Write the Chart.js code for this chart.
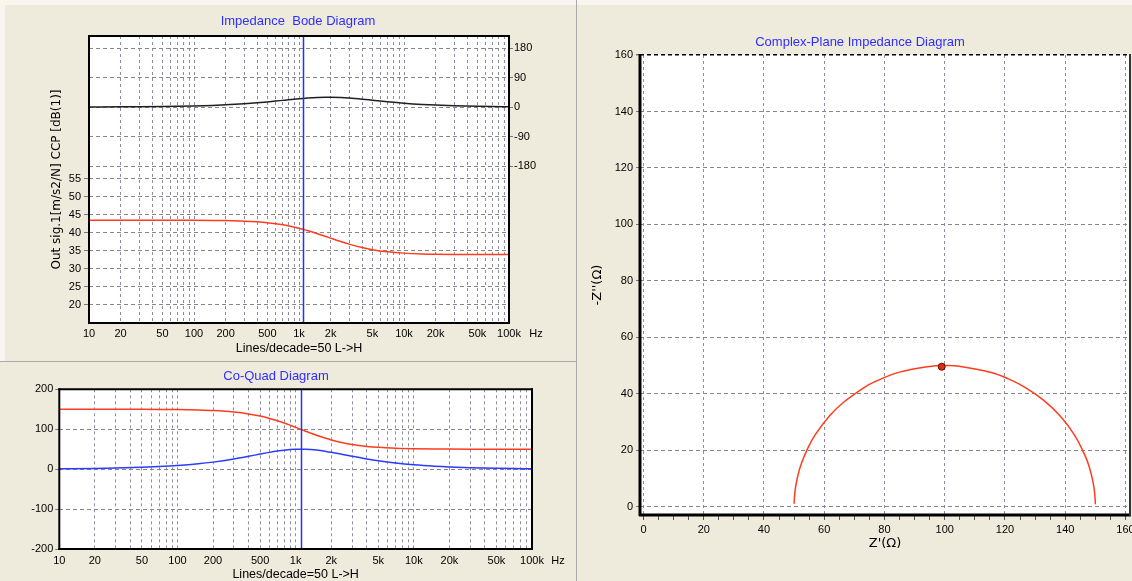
<!DOCTYPE html>
<html>
<head>
<meta charset="utf-8">
<script src="https://cdn.jsdelivr.net/npm/chart.js@4.4.1/dist/chart.umd.min.js"></script>
<style>
  html, body { margin: 0; padding: 0; }
  body { width: 1132px; height: 581px; overflow: hidden; position: relative; background: #efebdc; }
  canvas { position: absolute; }
  #bode { left: 0; top: 0; }
  #coquad { left: 0; top: 362px; }
  #nyquist { left: 578px; top: 0; }
  .strip-top { position: absolute; left: 0; top: 0; width: 1132px; height: 5px; background: #f8f6ef; }
  .strip-left { position: absolute; left: 0; top: 0; width: 5px; height: 361px; background: #f8f6ef; }
  .sep-v { position: absolute; left: 576px; top: 0; width: 1px; height: 581px; background: #a9a9a9; }
  .sep-h { position: absolute; left: 0; top: 361px; width: 576px; height: 1px; background: #a9a9a9; }
</style>
</head>
<body>
<div class="strip-top"></div>
<div class="strip-left"></div>
<div class="sep-v"></div>
<div class="sep-h"></div>
<canvas id="bode" width="576" height="361"></canvas>
<canvas id="coquad" width="576" height="225"></canvas>
<canvas id="nyquist" width="566" height="581"></canvas>
<script>
// frequencies (Hz)
const freqs = [10, 20, 30, 50, 70, 100, 150, 200, 300, 400, 500, 600, 700, 800, 1000, 1100,
  1200, 1500, 1800, 2000, 2500, 3000, 4000, 5000, 7000, 10000, 15000, 20000, 30000, 50000, 70000, 100000];

// Bode: magnitude [dB] and phase [deg]
const magDb = [43.52, 43.52, 43.52, 43.51, 43.51, 43.49, 43.45, 43.40, 43.25, 43.05, 42.81, 42.53,
  42.24, 41.93, 41.29, 40.97, 40.66, 39.77, 39.00, 38.54, 37.59, 36.88, 35.92, 35.34, 34.75, 34.38,
  34.16, 34.08, 34.02, 34.00, 33.99, 33.98];
const phaseDeg = [0.35, 0.69, 1.04, 1.73, 2.43, 3.46, 5.16, 6.84, 10.06, 13.07, 15.83, 18.31, 20.50,
  22.40, 25.41, 26.57, 27.51, 29.31, 29.96, 29.97, 29.10, 27.59, 24.15, 21.01, 16.31, 11.99, 8.21,
  6.22, 4.18, 2.52, 1.80, 1.26];

// Co-Quad: real part (red) and quadrature part (blue), also used for the complex plane
const coReal = [149.99, 149.97, 149.93, 149.79, 149.60, 149.18, 148.17, 146.80, 143.08, 138.32,
  132.88, 127.07, 121.17, 115.41, 104.75, 100.00, 95.66, 84.97, 77.19, 73.22, 66.22, 61.85, 57.03,
  54.62, 52.41, 51.20, 50.53, 50.30, 50.13, 50.05, 50.02, 50.01];
const quadImag = [0.91, 1.82, 2.73, 4.54, 6.34, 9.02, 13.39, 17.60, 25.38, 32.12, 37.67, 42.04,
  45.29, 47.57, 49.77, 50.00, 49.81, 47.69, 44.49, 42.23, 36.86, 32.32, 25.57, 20.98, 15.34, 10.87,
  7.29, 5.48, 3.66, 2.20, 1.57, 1.10];

// cursor
const cursorFreq = 1100;
const cursorPoint = { x: 99, y: 49.6 };

// ticks
const freqTickValues = [10, 20, 50, 100, 200, 500, 1000, 2000, 5000, 10000, 20000, 50000, 100000];
const freqTickLabels = ['10', '20', '50', '100', '200', '500', '1k', '2k', '5k', '10k', '20k', '50k', '100k'];
const magTicks = [20, 25, 30, 35, 40, 45, 50, 55];
const phaseTicks = [-180, -90, 0, 90, 180];
const coQuadTicks = [-200, -100, 0, 100, 200];
const nyqTicks = [0, 20, 40, 60, 80, 100, 120, 140, 160];

// grid lines of the log axis: 1..9 in every decade
const logGrid = [];
for (let d = 10; d < 100000; d *= 10) for (let m = 1; m < 10; m++) logGrid.push(d * m);
logGrid.push(100000);
// minor tick marks of the Z' axis
const nyqMinor = [];
for (let v = 0; v <= 160; v += 5) nyqMinor.push(v);

Chart.defaults.font.family = '"Liberation Sans", Arial, sans-serif';
Chart.defaults.font.size = 11;
Chart.defaults.color = '#000';

const GRID_V = '#8c8ca2';
const GRID_H = '#8a8782';
const TITLE_BLUE = '#2e2eff';
const WIDE_FONT = '"DejaVu Sans", "Liberation Sans", sans-serif';

const freqLabel = v => {
  const i = freqTickValues.indexOf(v);
  return i >= 0 ? freqTickLabels[i] : '';
};
const pts = (xs, ys) => xs.map((x, i) => ({ x: x, y: ys[i] }));
const setTicks = list => s => { s.ticks = list.map(v => ({ value: v })); };

// white plot area + black frame
const panelFrame = {
  id: 'panelFrame',
  beforeDraw(chart) {
    const a = chart.chartArea;
    const ctx = chart.ctx;
    ctx.save();
    ctx.fillStyle = '#fff';
    ctx.fillRect(a.left, a.top, a.right - a.left, a.bottom - a.top);
    ctx.restore();
  },
  afterDraw(chart, args, opts) {
    const { left, right, top, bottom } = chart.chartArea;
    const ctx = chart.ctx;
    const sides = opts.sides || {};
    const line = (w, c, x1, y1, x2, y2) => {
      if (!w) return;
      ctx.lineWidth = w;
      ctx.strokeStyle = c;
      ctx.beginPath();
      ctx.moveTo(x1, y1);
      ctx.lineTo(x2, y2);
      ctx.stroke();
    };
    ctx.save();
    line(sides.top, '#000', left - 1, top, right + 1, top);
    line(sides.bottom, '#000', left - 1, bottom, right + 1, bottom);
    line(sides.left, '#000', left, top - 1, left, bottom + 1);
    line(sides.right, opts.rightColor || '#000', right, top - 1, right, bottom + 1);
    ctx.restore();
  }
};

// vertical cursor at the selected frequency
const cursorLine = {
  id: 'cursorLine',
  afterDatasetsDraw(chart, args, opts) {
    const { top, bottom } = chart.chartArea;
    const x = Math.round(chart.scales.x.getPixelForValue(opts.value)) + 0.5;
    const ctx = chart.ctx;
    ctx.save();
    ctx.strokeStyle = '#1c34ff';
    ctx.lineWidth = 1.5;
    ctx.beginPath();
    ctx.moveTo(x, top);
    ctx.lineTo(x, bottom);
    ctx.stroke();
    ctx.restore();
  }
};

// "Hz" after the last frequency label
const unitText = {
  id: 'unitText',
  afterDraw(chart, args, opts) {
    const { right, bottom } = chart.chartArea;
    const ctx = chart.ctx;
    ctx.save();
    ctx.font = '11px "Liberation Sans", Arial, sans-serif';
    ctx.fillStyle = '#000';
    ctx.textAlign = 'center';
    ctx.textBaseline = 'middle';
    ctx.fillText(opts.text, right + opts.dx, bottom + opts.dy);
    ctx.restore();
  }
};

function freqAxis(height, pad) {
  return {
    type: 'logarithmic', min: 10, max: 100000,
    afterBuildTicks: setTicks(logGrid),
    afterFit: s => { s.height = height; },
    ticks: { autoSkip: false, maxRotation: 0, minRotation: 0, padding: pad, callback: freqLabel },
    grid: { color: GRID_V, drawTicks: false },
    border: { display: false, dash: [3, 3] },
    title: { display: true, text: 'Lines/decade=50 L->H', font: { size: 12.5 }, padding: { top: 0, bottom: 4.5 } }
  };
}

const common = {
  responsive: false,
  animation: false,
  devicePixelRatio: 1,
  events: [],
  elements: { point: { radius: 0 }, line: { borderWidth: 1.5, cubicInterpolationMode: 'monotone' } }
};

// Impedance Bode diagram
new Chart(document.getElementById('bode'), {
  type: 'line',
  data: {
    datasets: [
      { label: 'Phase', yAxisID: 'yPhase', data: pts(freqs, phaseDeg), borderColor: '#202020' },
      { label: 'Magnitude', yAxisID: 'yMag', data: pts(freqs, magDb), borderColor: '#ff3c1e' }
    ]
  },
  options: {
    ...common,
    layout: { padding: { left: 20, right: 0, top: 0, bottom: 0 } },
    plugins: {
      legend: { display: false },
      tooltip: { enabled: false },
      title: { display: true, text: 'Impedance  Bode Diagram', color: TITLE_BLUE,
        font: { size: 13, weight: 'normal' }, padding: { top: 13.2, bottom: 7.2 } },
      panelFrame: { sides: { top: 2, bottom: 2, left: 2, right: 2 } },
      cursorLine: { value: cursorFreq },
      unitText: { text: 'Hz', dx: 27, dy: 10.5 }
    },
    scales: {
      x: freqAxis(38, 4),
      yMag: {
        type: 'linear', position: 'left', min: 15, max: 94.6,
        afterBuildTicks: setTicks(magTicks),
        afterFit: s => { s.width = 69; },
        ticks: { padding: 3 },
        grid: { color: GRID_H, tickColor: '#777', tickLength: 5 },
        border: { display: false, dash: [4, 3] },
        title: { display: true, text: 'Out sig.1[m/s2/N] CCP [dB(1)]', font: { size: 12, family: WIDE_FONT },
          padding: { top: 30, bottom: 0 } }
      },
      yPhase: {
        type: 'linear', position: 'right', min: -659, max: 217,
        afterBuildTicks: setTicks(phaseTicks),
        afterFit: s => { s.width = 67; },
        ticks: { padding: 1 },
        grid: { color: GRID_H, tickColor: '#777', tickLength: 4 },
        border: { display: false, dash: [4, 3] }
      }
    }
  },
  plugins: [panelFrame, cursorLine, unitText]
});

// Co-Quad diagram
new Chart(document.getElementById('coquad'), {
  type: 'line',
  data: {
    datasets: [
      { label: 'Co', data: pts(freqs, coReal), borderColor: '#ff3c1e' },
      { label: 'Quad', data: pts(freqs, quadImag), borderColor: '#2a3cff' }
    ]
  },
  options: {
    ...common,
    layout: { padding: { left: 20, right: 44, top: 0, bottom: 0 } },
    plugins: {
      legend: { display: false },
      tooltip: { enabled: false },
      title: { display: true, text: 'Co-Quad Diagram', color: TITLE_BLUE,
        font: { size: 13, weight: 'normal' }, padding: { top: 6.2, bottom: 5.5 } },
      panelFrame: { sides: { top: 2, bottom: 2, left: 2, right: 2 } },
      cursorLine: { value: cursorFreq },
      unitText: { text: 'Hz', dx: 26, dy: 11.5 }
    },
    scales: {
      x: freqAxis(38, 5),
      y: {
        type: 'linear', position: 'left', min: -200, max: 200,
        afterBuildTicks: setTicks(coQuadTicks),
        afterFit: s => { s.width = 39.3; },
        ticks: { padding: 2 },
        grid: { color: GRID_H, tickColor: '#777', tickLength: 4 },
        border: { display: false, dash: [4, 3] }
      }
    }
  },
  plugins: [panelFrame, cursorLine, unitText]
});

// Complex-plane impedance diagram
new Chart(document.getElementById('nyquist'), {
  type: 'line',
  data: {
    datasets: [
      { label: 'Cursor', data: [cursorPoint], showLine: false, pointRadius: 3.5,
        pointBackgroundColor: '#e82a0a', pointBorderColor: '#5a0a00', pointBorderWidth: 1 },
      { label: 'Z', data: pts(coReal, quadImag), borderColor: '#ff3c1e', tension: 0.4,
        cubicInterpolationMode: 'default' }
    ]
  },
  options: {
    ...common,
    layout: { padding: { left: 12, right: 14, top: 0, bottom: 0 } },
    plugins: {
      legend: { display: false },
      tooltip: { enabled: false },
      title: { display: true, text: 'Complex-Plane Impedance Diagram', color: TITLE_BLUE,
        font: { size: 13, weight: 'normal' }, padding: { top: 34.2, bottom: 5.2 } },
      panelFrame: { sides: { bottom: 3, left: 3, right: 2 }, rightColor: '#333' }
    },
    scales: {
      x: {
        type: 'linear', min: -1.16, max: 161.5,
        afterBuildTicks: setTicks(nyqMinor),
        afterFit: s => { s.height = 66; },
        ticks: { autoSkip: false, maxRotation: 0, padding: 3,
          callback: v => (nyqTicks.includes(v) ? String(v) : '') },
        grid: {
          color: c => (nyqTicks.includes(c.tick.value) ? GRID_V : 'rgba(0,0,0,0)'),
          tickColor: '#555', tickLength: 5
        },
        border: { display: false, dash: [3, 3] },
        title: { display: true, text: "Z'(\u03A9)", font: { size: 13, family: WIDE_FONT }, padding: { top: 0, bottom: 30 } }
      },
      y: {
        type: 'linear', position: 'left', min: -2.9, max: 160,
        afterBuildTicks: setTicks(nyqTicks),
        afterFit: s => { s.width = 50; },
        ticks: { padding: 3 },
        grid: {
          color: c => (c.tick.value === 160 ? '#000' : GRID_H),
          lineWidth: c => (c.tick.value === 160 ? 1.5 : 1),
          tickColor: '#777', tickLength: 4
        },
        border: { display: false, dash: [4, 3] },
        title: { display: true, text: "-Z''(\u03A9)", font: { size: 13, family: WIDE_FONT }, padding: { top: 0, bottom: 0 } }
      }
    }
  },
  plugins: [panelFrame]
});
</script>
</body>
</html>
